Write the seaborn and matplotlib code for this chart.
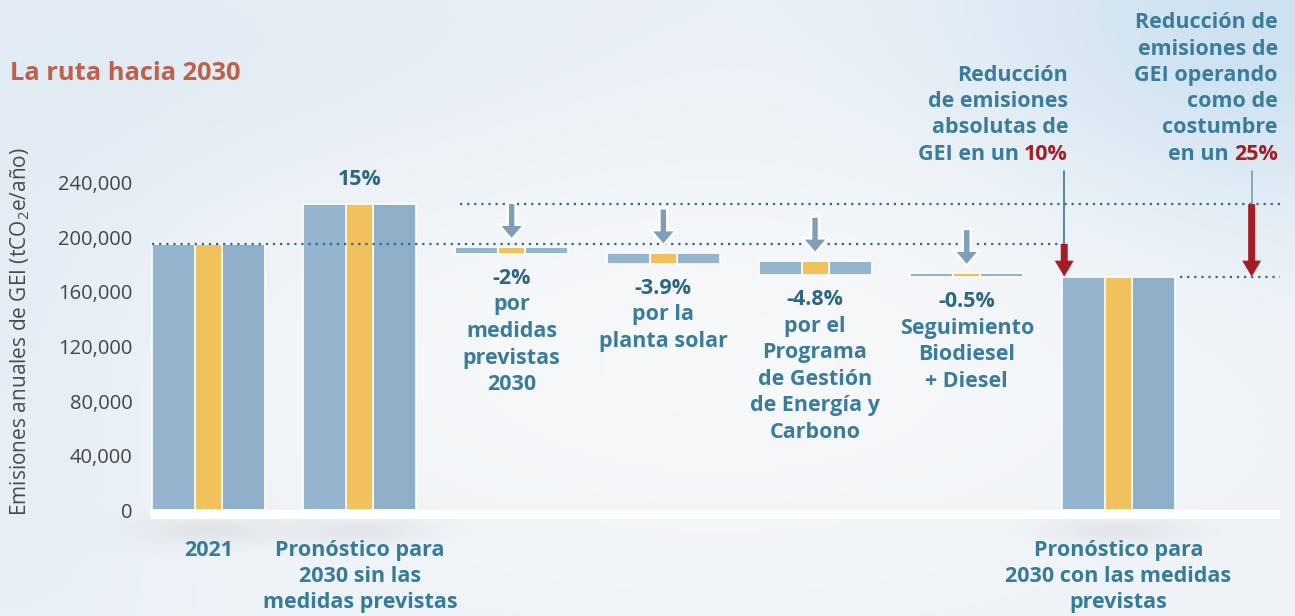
import numpy as np
import pandas as pd
import seaborn as sns
import matplotlib.pyplot as plt
from matplotlib.patches import FancyArrow
from matplotlib.ticker import FuncFormatter

# ---- data ----
categories = ["2021", "sin_medidas", "medidas", "solar", "programa", "biodiesel", "con_medidas"]
tick_labels = ["2021", "Pronóstico para\n2030 sin las\nmedidas previstas", "", "", "", "",
               "Pronóstico para\n2030 con las medidas\nprevistas"]
total_cats = ["2021", "sin_medidas", "con_medidas"]
total_values = [195000, 224000, 171000]
step_cats = ["medidas", "solar", "programa", "biodiesel"]
step_tops = [192500, 188500, 182500, 173500]
step_bottoms = [187500, 180500, 172000, 170500]
step_pcts = ["-2%", "-3.9%", "-4.8%", "-0.5%"]
step_texts = ["por\nmedidas\nprevistas\n2030", "por la\nplanta solar",
              "por el\nPrograma\nde Gestión\nde Energía y\nCarbono",
              "Seguimiento\nBiodiesel\n+ Diesel"]
increase_pct = "15%"
yticks = [0, 40000, 80000, 120000, 160000, 200000, 240000]

BLUE = "#95b5ce"
BLUE2 = "#8fafc8"
YELLOW = "#f0c15c"
ARROW = "#7f9eb7"
RED = "#a51c24"
TEAL = "#3a7c9b"
TEAL_DARK = "#2c6682"
DOT = "#2f6b88"

BAR_W = 0.745
MID_W = 0.178
SIDE_W = (BAR_W - MID_W) / 2
FS = 15.5
LS = 1.35

sns.set_theme(style="white")
plt.rcParams["font.family"] = ["Open Sans", "DejaVu Sans"]
plt.rcParams["mathtext.fontset"] = "custom"
plt.rcParams["mathtext.rm"] = "Open Sans"
plt.rcParams["mathtext.default"] = "regular"

W, H = 1295, 616
fig = plt.figure(figsize=(W / 100, H / 100), dpi=100)

# ---- cloudy background ----
yy, xx = np.mgrid[0:H, 0:W].astype(float)
img = np.ones((H, W, 3)) * np.array([0.930, 0.950, 0.968])


def blob(img, cx, cy, sx, sy, color, strength):
    g = np.exp(-(((xx - cx) / sx) ** 2 + ((yy - cy) / sy) ** 2) / 2)[..., None] * strength
    return img * (1 - g) + np.array(color) * g


img = blob(img, 1260, 40, 220, 140, (0.78, 0.87, 0.94), 0.9)
img = blob(img, 180, 60, 380, 120, (0.87, 0.91, 0.95), 0.7)
img = blob(img, 30, 330, 130, 220, (0.86, 0.91, 0.96), 0.6)
img = blob(img, 720, 360, 380, 170, (0.975, 0.978, 0.982), 0.85)

ax_left, ax_right, ax_top, ax_bottom = 150, 1280, 170, 518.7
xlim = (-0.384, -0.384 + (ax_right - ax_left) / 151.7)
for c in total_cats:
    px = ax_left + (categories.index(c) - xlim[0]) / (xlim[1] - xlim[0]) * (ax_right - ax_left)
    img = blob(img, px, 530, 50, 10, (0.82, 0.83, 0.84), 0.45)

bg = fig.add_axes([0, 0, 1, 1], zorder=0)
bg.imshow(np.clip(img, 0, 1), aspect="auto")
bg.axis("off")

ax = fig.add_axes([ax_left / W, 1 - ax_bottom / H, (ax_right - ax_left) / W,
                   (ax_bottom - ax_top) / H], zorder=1)
ax.set_facecolor("none")

# ---- total bars ----
tot_df = pd.DataFrame({"cat": total_cats, "value": total_values})
sns.barplot(data=tot_df, x="cat", y="value", order=categories, color=BLUE, saturation=1,
            width=BAR_W, errorbar=None, edgecolor="white", linewidth=1.2, ax=ax, zorder=2)
for c, v in zip(total_cats, total_values):
    x = categories.index(c)
    ax.bar(x + MID_W / 2 + SIDE_W / 2, v, width=SIDE_W, color=BLUE2, edgecolor="white",
           linewidth=1.2, zorder=3)
    ax.bar(x, v, width=MID_W, color=YELLOW, edgecolor="white", linewidth=1.2, zorder=3)

# ---- floating reduction bars ----
for c, top, bot, pct, txt in zip(step_cats, step_tops, step_bottoms, step_pcts, step_texts):
    x = categories.index(c)
    h = top - bot
    ax.bar(x - MID_W / 2 - SIDE_W / 2, h, bottom=bot, width=SIDE_W, color=BLUE,
           edgecolor="white", linewidth=1.2, zorder=3)
    ax.bar(x + MID_W / 2 + SIDE_W / 2, h, bottom=bot, width=SIDE_W, color=BLUE,
           edgecolor="white", linewidth=1.2, zorder=3)
    ax.bar(x, h, bottom=bot, width=MID_W, color=YELLOW, edgecolor="white",
           linewidth=1.2, zorder=3)
    tip = top + 5500
    ax.add_patch(FancyArrow(x, tip + 27000, 0, -27000, width=0.052, head_width=0.17,
                            head_length=11000, length_includes_head=True, fc=ARROW,
                            ec="white", lw=1.8, zorder=5))
    ax.annotate(pct, xy=(x, bot), xytext=(0, -10), textcoords="offset points",
                ha="center", va="top", fontsize=FS, fontweight="bold", color=TEAL_DARK)
    ax.annotate(txt, xy=(x, bot), xytext=(0, -29), textcoords="offset points",
                ha="center", va="top", fontsize=FS, fontweight="bold", color=TEAL,
                linespacing=LS, multialignment="center")

# 15% label
bau_x = categories.index("sin_medidas")
ax.annotate(increase_pct, xy=(bau_x, total_values[1]), xytext=(0, 10), textcoords="offset points",
            ha="center", va="bottom", fontsize=FS, fontweight="bold", color=TEAL_DARK)

# ---- reference dotted lines ----
dots = dict(color=DOT, linewidth=1.6, linestyle=(0, (1, 2.2)), zorder=4)
fin_x = categories.index("con_medidas")
red10_x = fin_x - BAR_W / 2 + 0.015
red25_x = fin_x + 0.878
ax.hlines(total_values[0], 0 - BAR_W / 2, red10_x - 0.03, **dots)
ax.hlines(total_values[1], categories.index("medidas") - BAR_W / 2 + 0.03, xlim[1], **dots)
ax.hlines(total_values[2], fin_x + BAR_W / 2 + 0.03, xlim[1], **dots)

# ---- red reduction arrows ----
for x, start, lc in [(red10_x, total_values[0], "#2e6a88"), (red25_x, total_values[1], "#6e95ae")]:
    ax.plot([x, x], [start, 248000], color=lc, lw=1.1, zorder=4, clip_on=False)
    L = start - total_values[2]
    ax.add_patch(FancyArrow(x, start, 0, -L, width=0.046, head_width=0.125,
                            head_length=11700, length_includes_head=True, fc=RED,
                            ec="none", zorder=5, clip_on=False))

txt_kw = dict(fontsize=FS, fontweight="bold", annotation_clip=False)
r10 = ax.annotate("10%", xy=(red10_x + 0.025, 253000), ha="right", va="bottom", color=RED, **txt_kw)
ax.annotate("GEI en un", xy=(0, 0), xycoords=r10, xytext=(-3.8, 0), textcoords="offset points",
            ha="right", va="bottom", color=TEAL, **txt_kw)
ax.annotate("Reducción\nde emisiones\nabsolutas de", xy=(red10_x + 0.025, 253000),
            xytext=(0, 19.2), textcoords="offset points", ha="right", va="bottom",
            color=TEAL, linespacing=1.32, multialignment="right", **txt_kw)

ytr = ax.get_yaxis_transform()
r25 = ax.annotate("25%", xy=(0.998, 253000), xycoords=ytr, ha="right", va="bottom", color=RED, **txt_kw)
ax.annotate("en un", xy=(0, 0), xycoords=r25, xytext=(-3.8, 0), textcoords="offset points",
            ha="right", va="bottom", color=TEAL, **txt_kw)
ax.annotate("Reducción de\nemisiones de\nGEI operando\ncomo de\ncostumbre", xy=(0.998, 253000),
            xycoords=ytr, xytext=(0, 19.2), textcoords="offset points", ha="right", va="bottom",
            color=TEAL, linespacing=1.32, multialignment="right", **txt_kw)

# ---- axes styling ----
ax.axhspan(-6000, 0, color="white", zorder=4)
ax.set_xlim(*xlim)
ax.set_ylim(-6000, 249000)
ax.set(xlabel="", ylabel="")
ax.set_xticks(range(len(categories)))
ax.set_xticklabels(tick_labels, fontsize=FS, fontweight="bold", color="#357b9b",
                   linespacing=1.32)
ax.set_yticks(yticks)
ax.yaxis.set_major_formatter(FuncFormatter(lambda v, p: f"{int(v):,}"))
ax.tick_params(axis="y", length=0, pad=12.5, labelsize=14.5, labelcolor="#454545")
ax.tick_params(axis="x", length=0, pad=15)
sns.despine(ax=ax, left=True, bottom=True)

fig.text(20 / W, 1 - 332 / H, "Emisiones anuales de GEI (tCO$_2$e/año)", rotation=90,
         ha="center", va="center", fontsize=15, color="#4a4a4a")
fig.text(10 / W, 1 - 74 / H, "La ruta hacia 2030", ha="left", va="center",
         fontsize=18.3, fontweight="bold", color="#c1604a")

fig.savefig("out.png", dpi=100)
